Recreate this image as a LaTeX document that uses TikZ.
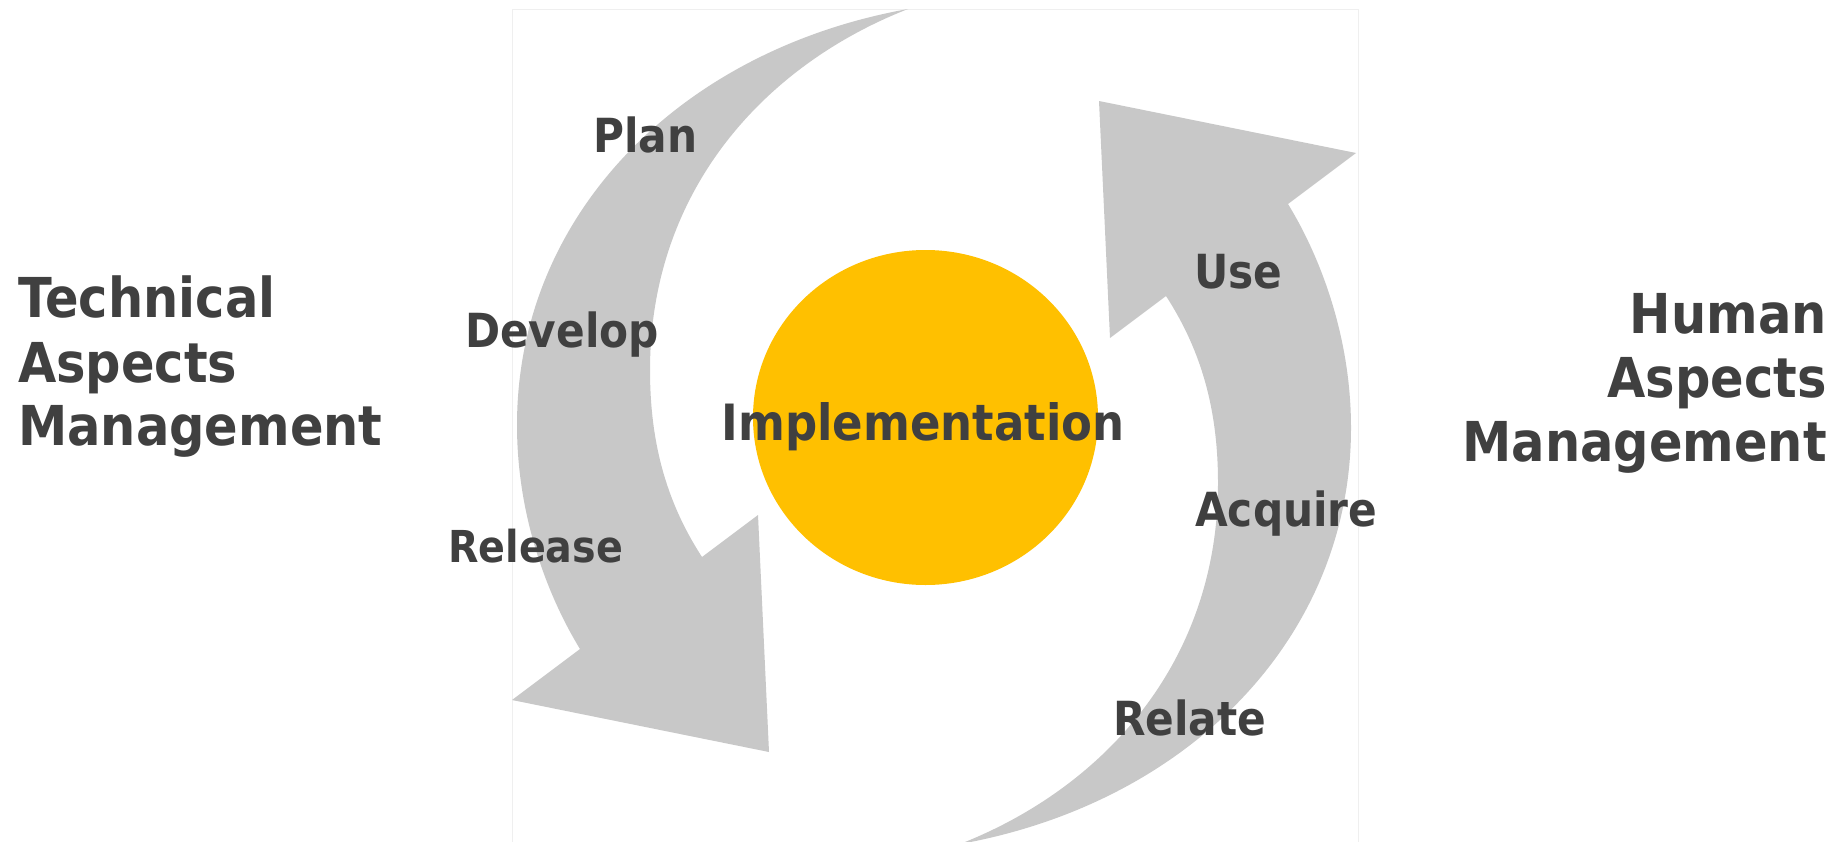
\documentclass[tikz,border=0pt]{standalone}
\usepackage{fontspec}
\setmainfont{DejaVu Sans}[FakeStretch=0.9]
\usetikzlibrary{shapes.geometric}
\definecolor{arrowgray}{HTML}{C8C8C8}
\definecolor{sunyellow}{HTML}{FFC000}
\definecolor{textgray}{HTML}{404040}
\definecolor{framegray}{HTML}{EFEFEF}
\tikzset{
  ccarrow/.pic={
    \fill[arrowgray] (908,9)
      .. controls (680,50) and (517,215) .. (517,425)
      .. controls (517,520) and (550,600) .. (580,649)
      -- (512,700) -- (769,752) -- (758,515) -- (702,557)
      .. controls (665,500) and (650,440) .. (650,370)
      .. controls (650,190) and (765,65) .. (908,9)
      -- cycle;
  },
  lbl/.style={inner sep=0pt, text=textgray, font=\fontsize{47bp}{56bp}\selectfont\bfseries},
  ttl/.style={inner sep=0pt, text=textgray, font=\fontsize{55bp}{64bp}\selectfont\bfseries},
}
\begin{document}
\begin{tikzpicture}[x=1bp,y=-1bp]
\useasboundingbox[fill=white] (0,0) rectangle (1845,842);
\draw[framegray, line width=1bp] (512,850) -- (512,9) -- (1358,9) -- (1358,850);
\pic at (0,0) {ccarrow};
\pic[rotate=180] at (1868,853) {ccarrow};
\node[ellipse, fill=sunyellow, minimum width=345bp, minimum height=335bp, inner sep=0pt] (core) at (925.5,417.5) {};
\node[lbl, anchor=base west] (plan) at (593,152) {Plan};
\node[lbl, anchor=base west] (develop) at (465,347) {Develop};
\node[lbl, anchor=base west, font=\fontsize{44bp}{52bp}\selectfont\bfseries] (release) at (448,562) {Release};
\node[lbl, anchor=base west] (use) at (1194,288) {Use};
\node[lbl, anchor=base west] (acquire) at (1195,526) {Acquire};
\node[lbl, anchor=base west] (relate) at (1113,735) {Relate};
\node[lbl, anchor=base, font=\fontsize{50bp}{60bp}\selectfont\bfseries] (impl) at (923,440) {Implementation};
\node[ttl, anchor=base west] (t1) at (18,317) {Technical};
\node[ttl, anchor=base west] (t2) at (18,382) {Aspects};
\node[ttl, anchor=base west] (t3) at (18,445) {Management};
\node[ttl, anchor=base east] (h1) at (1827,333) {Human};
\node[ttl, anchor=base east] (h2) at (1827,397) {Aspects};
\node[ttl, anchor=base east] (h3) at (1827,461) {Management};
\end{tikzpicture}
\end{document}
